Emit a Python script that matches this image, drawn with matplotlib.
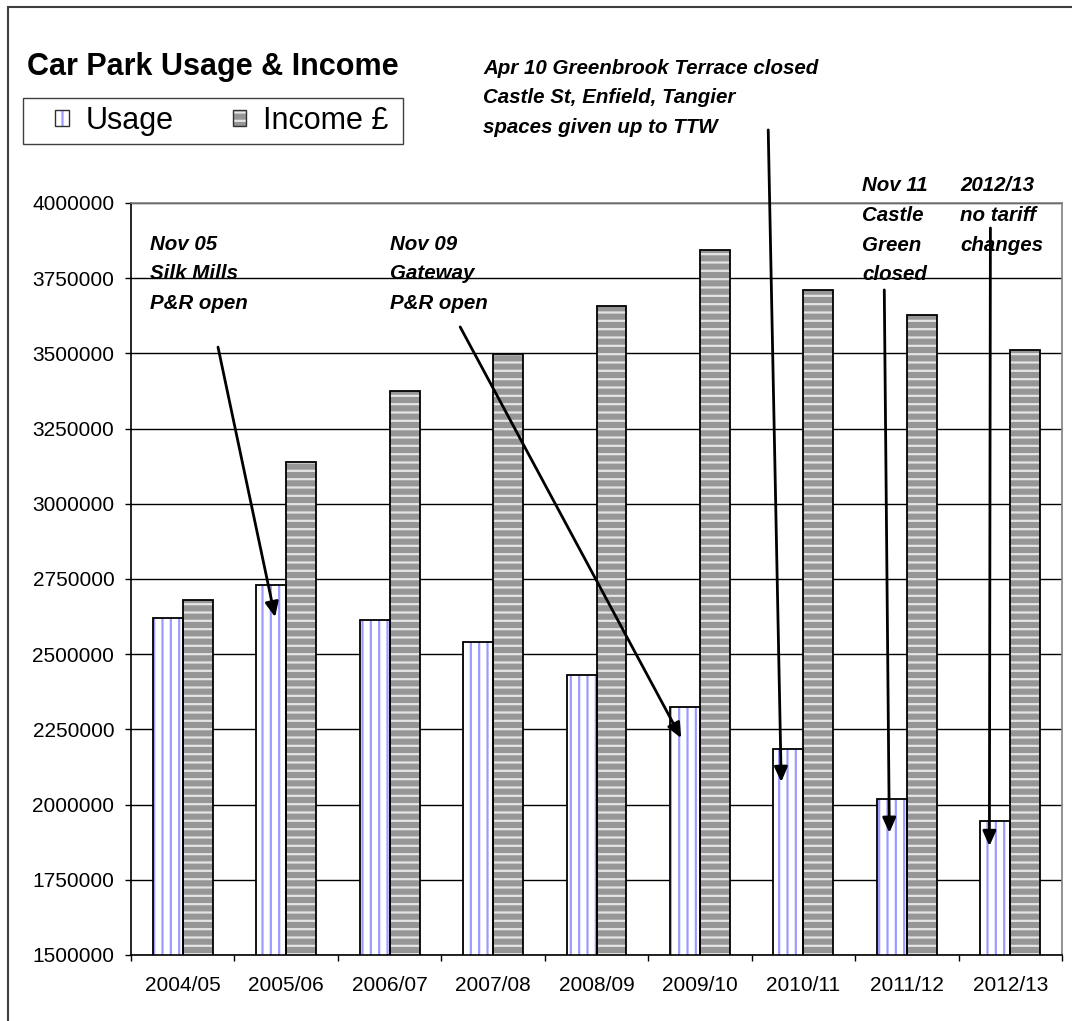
import matplotlib
matplotlib.use("Agg")
import matplotlib.pyplot as plt
from matplotlib.patches import Patch, Rectangle
import numpy as np

plt.rcParams["font.family"] = ["Liberation Sans", "DejaVu Sans"]
plt.rcParams["hatch.linewidth"] = 1.6

# ---- data ----
years = ["2004/05", "2005/06", "2006/07", "2007/08", "2008/09",
         "2009/10", "2010/11", "2011/12", "2012/13"]
usage = [2620000, 2730000, 2613000, 2540000, 2430000,
         2323000, 2186000, 2020000, 1947000]
income = [2680000, 3140000, 3376000, 3498000, 3656000,
          3843000, 3710000, 3627000, 3510000]

# annotations: text, text anchor (category, value), arrow start, arrow tip
notes = [
    ("Nov 05\nSilk Mills\nP&R open", (-0.316, 3895000), (0.341, 3521000), (0.893, 2623000)),
    ("Nov 09\nGateway\nP&R open", (2.005, 3895000), (2.682, 3588000), (4.819, 2221000)),
    ("Apr 10 Greenbrook Terrace closed\nCastle St, Enfield, Tangier\nspaces given up to TTW",
     (2.904, 4480000), (5.660, 4243000), (5.786, 2075000)),
    ("Nov 11\nCastle\nGreen\nclosed", (6.570, 4090000), (6.782, 3711000), (6.831, 1906000)),
    ("2012/13\nno tariff\nchanges", (7.517, 4090000), (7.808, 3917000), (7.798, 1862000)),
]

W, H = 1072, 1021
fig = plt.figure(figsize=(W / 100, H / 100), dpi=100)
ax = fig.add_axes([131 / W, 1 - 955 / H, (1062 - 131) / W, (955 - 203) / H])

x = np.arange(len(years))
bw = 0.29
usage_fill = dict(color="white", edgecolor="#9c9cff", hatch="||", linewidth=0)
income_fill = dict(color="#969696", edgecolor="#e4e4e4", hatch="--", linewidth=0)
ax.bar(x - bw / 2, usage, bw, zorder=2, **usage_fill)
ax.bar(x + bw / 2, income, bw, zorder=2, **income_fill)
ax.bar(x - bw / 2, usage, bw, fill=False, edgecolor="black", linewidth=1.3, zorder=3)
ax.bar(x + bw / 2, income, bw, fill=False, edgecolor="black", linewidth=1.3, zorder=3)

ax.set_ylim(1500000, 4000000)
ax.set_xlim(-0.5, len(years) - 0.5)
ax.set_yticks(np.arange(1500000, 4000001, 250000))
ax.set_yticklabels([f"{v:d}" for v in range(1500000, 4000001, 250000)])
ax.yaxis.grid(True, color="black", linewidth=1)
ax.set_axisbelow(True)
ax.set_xticks(x)
ax.set_xticklabels(years)
ax.set_xticks(np.arange(-0.5, len(years)), minor=True)
ax.tick_params(axis="x", which="major", length=0, pad=15, labelsize=15)
ax.tick_params(axis="x", which="minor", length=4, width=1, direction="out")
ax.tick_params(axis="y", length=4, width=1, direction="out", pad=8, labelsize=15)
for side in ("left", "bottom"):
    ax.spines[side].set_color("black")
    ax.spines[side].set_linewidth(1.2)
for side in ("top", "right"):
    ax.spines[side].set_color("#808080")
    ax.spines[side].set_linewidth(1.2)

for text, txy, start, tip in notes:
    ax.text(txy[0], txy[1], text, fontsize=14.8, fontweight="bold", fontstyle="italic",
            ha="left", va="top", linespacing=1.72, clip_on=False, zorder=5)
    ax.annotate("", xy=tip, xytext=start, annotation_clip=False, zorder=6,
                arrowprops=dict(arrowstyle="-|>,head_length=0.9,head_width=0.4",
                                color="black", lw=2, shrinkA=0, shrinkB=0))

fig.text(27 / W, 1 - 75 / H, "Car Park Usage & Income", fontsize=22,
         fontweight="bold", ha="left", va="baseline")

# legend: frame drawn by hand, content placed inside it
fig.patches.append(Rectangle((23 / W, 1 - 144 / H), (403 - 23) / W, 46 / H,
                             transform=fig.transFigure, facecolor="white",
                             edgecolor="#404040", linewidth=1, zorder=1))
handles = [Patch(facecolor="white", edgecolor="#9c9cff", hatch="||"),
           Patch(facecolor="#969696", edgecolor="#e4e4e4", hatch="--")]
leg = fig.legend(handles, ["Usage", "Income £"], loc="center left",
                 bbox_to_anchor=(55 / W, 1 - 121 / H), borderaxespad=0, ncol=2,
                 fontsize=22, frameon=False, handlelength=0.45,
                 handleheight=0.45, handletextpad=0.55, columnspacing=1.93,
                 borderpad=0)
for h in leg.legend_handles:
    h.set_linewidth(0)
leg.set_zorder(2)

# outer chart-area border (runs off the right and bottom of the image)
fig.patches.append(Rectangle((8 / W, -0.1), 1.2, (H - 7) / H + 0.1,
                             transform=fig.transFigure, fill=False,
                             edgecolor="#404040", linewidth=1.5))

# dark outline round each legend key
fig.canvas.draw()
for h in leg.legend_handles:
    bb = h.get_window_extent()
    fig.patches.append(Rectangle((bb.x0 / W, bb.y0 / H), bb.width / W, bb.height / H,
                                 transform=fig.transFigure, fill=False,
                                 edgecolor="#303030", linewidth=1, zorder=3))

fig.savefig("out.png", dpi=100)
